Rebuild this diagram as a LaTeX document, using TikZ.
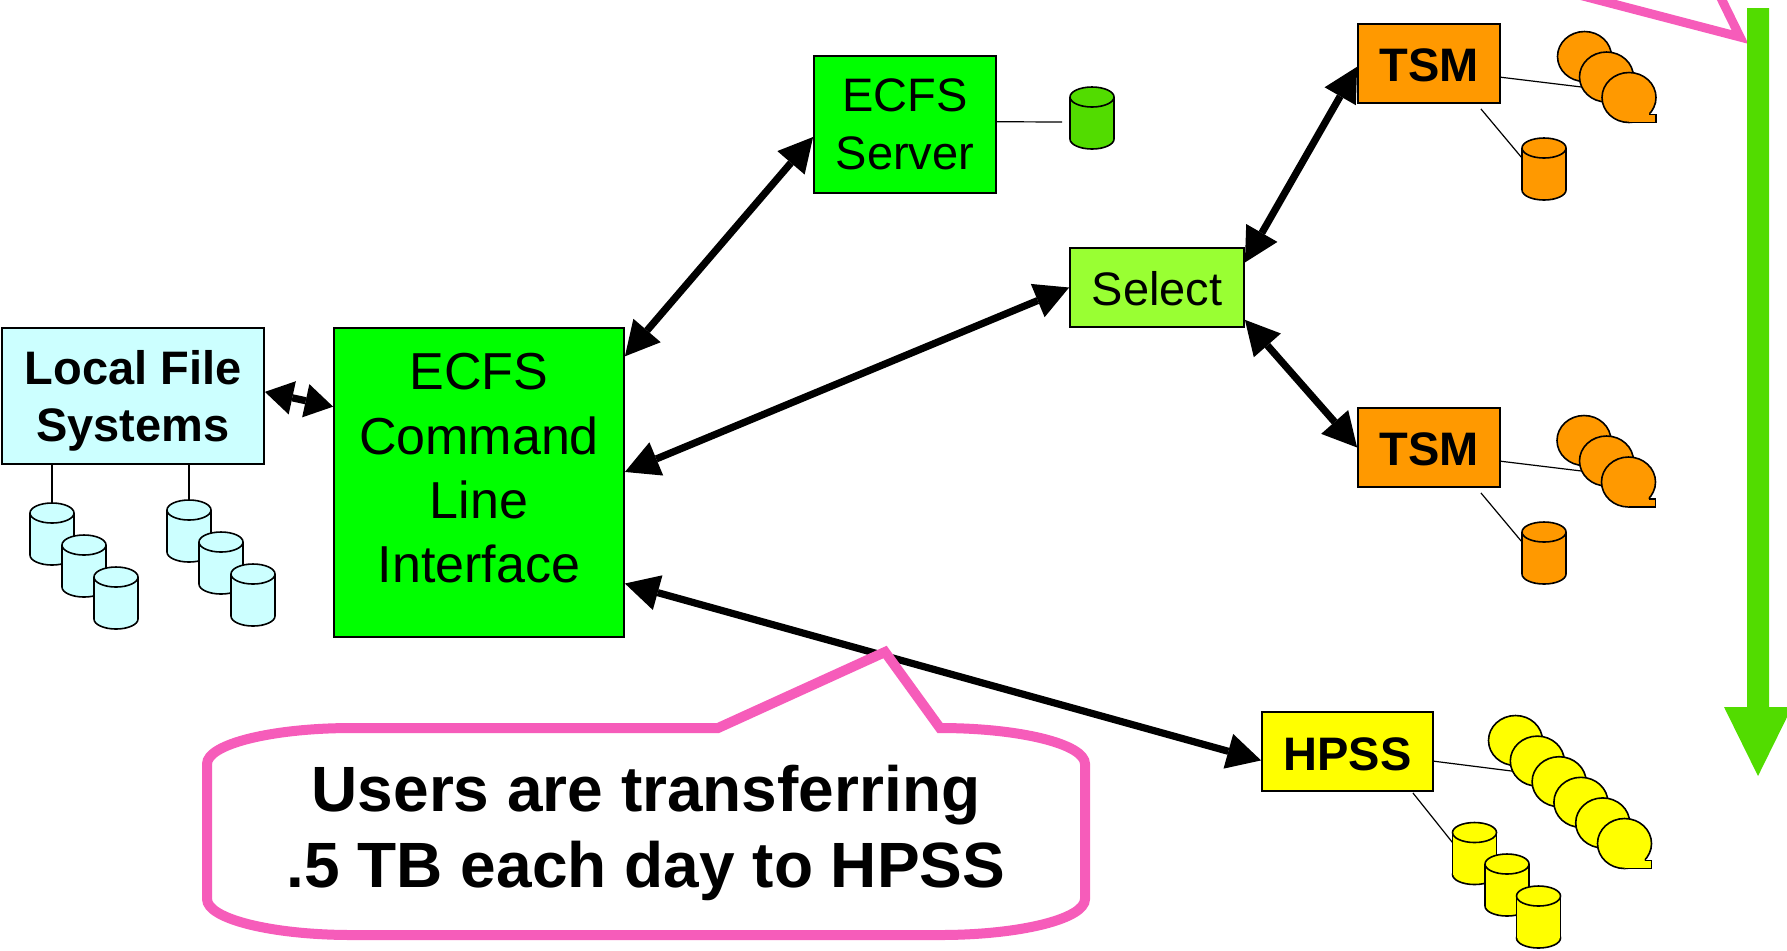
\documentclass[tikz,border=0pt]{standalone}
\usepackage{fontspec}
\setmainfont{Liberation Sans}
\usetikzlibrary{arrows.meta,calc}
\definecolor{lfscyan}{RGB}{204,255,255}
\definecolor{cligreen}{RGB}{0,255,0}
\definecolor{selgreen}{RGB}{153,255,51}
\definecolor{tsmorange}{RGB}{255,153,0}
\definecolor{hpssyellow}{RGB}{255,255,0}
\definecolor{darkgreen}{RGB}{82,220,0}
\definecolor{calloutpink}{RGB}{246,92,186}
\tikzset{
  box/.style={draw=black, line width=0.9pt, inner sep=0pt, rectangle},
  boldtext/.style={font=\fontsize{23.5}{28.5}\selectfont\bfseries, inner sep=0pt, align=center},
  plaintext/.style={font=\fontsize{23.5}{29}\selectfont, inner sep=0pt, align=center},
  clitext/.style={font=\fontsize{26}{32.15}\selectfont, inner sep=0pt, align=center},
  callouttext/.style={font=\fontsize{32}{38}\selectfont\bfseries, inner sep=0pt, align=center},
  dbl/.style={line width=3.6pt,
    {Triangle[length=17pt,width=18pt,line width=0pt]}-{Triangle[length=17pt,width=18pt,line width=0pt]}},
  shortdbl/.style={line width=3.6pt,
    {Triangle[length=14pt,width=17pt,line width=0pt]}-{Triangle[length=14pt,width=17pt,line width=0pt]}},
  thinline/.style={line width=0.6pt},
  callout/.style={draw=calloutpink, line width=5pt, fill=white, line join=miter},
  cyl/.pic={
    \path[fill=#1, draw=black, line width=0.8pt] (0,21) circle[x radius=22, y radius=10];
    \fill[#1] (-22,-21) rectangle (22,21);
    \draw[line width=0.8pt] (-22,-21) -- (-22,21) (22,-21) -- (22,21);
    \path[fill=#1, draw=black, line width=0.8pt] (0,-21) circle[x radius=22, y radius=10];
    \coordinate (-top) at (0,-31);
    \coordinate (-nw) at (-22,-11);
    \coordinate (-w) at (-22,0);
  },
  tape/.pic={
    \path[fill=#1, draw=black, line width=0.8pt] (0,0) circle[x radius=27, y radius=25];
    \fill[#1] (0,0) -- (0,25) -- (27,25) -- (27,17) -- (20,17) -- (20,0) -- cycle;
    \draw[line width=0.8pt, line join=miter] (0,25) -- (27,25) -- (27,17) -- (20,17);
    \coordinate (-in) at (-25,10);
  }
}
\begin{document}
\begin{tikzpicture}[x=0.5pt, y=-0.5pt]
\useasboundingbox (0,0) rectangle (1787,950);

% boxes
\node[box, fill=lfscyan, minimum width=131pt, minimum height=68pt] (lfs) at (133,396) {};
\node[box, fill=cligreen, minimum width=145pt, minimum height=154.5pt] (cli) at (479,482.5) {};
\node[box, fill=cligreen, minimum width=91pt, minimum height=68.5pt] (server) at (905,124.5) {};
\node[box, fill=selgreen, minimum width=87pt, minimum height=39.5pt] (select) at (1157,287.5) {};
\node[box, fill=tsmorange, minimum width=71pt, minimum height=39.5pt] (tsm1) at (1429,63.5) {};
\node[box, fill=tsmorange, minimum width=71pt, minimum height=39.5pt] (tsm2) at (1429,447.5) {};
\node[box, fill=hpssyellow, minimum width=85.5pt, minimum height=39.5pt] (hpss) at (1347.5,751.5) {};

% texts
\node[boldtext, anchor=north] (lfstext) at (133,350) {Local File\\Systems};
\node[clitext, anchor=north] (clitxt) at (479,353) {ECFS\\Command\\Line\\Interface};
\node[plaintext, anchor=north] (srvtext) at (905,78) {ECFS\\Server};
\node[plaintext, anchor=base] (seltext) at (1157,305) {Select};
\node[boldtext, anchor=base] (tsm1text) at (1429,81) {TSM};
\node[boldtext, anchor=base] (tsm2text) at (1429,465) {TSM};
\node[boldtext, anchor=base] (hpsstext) at (1347.5,770) {HPSS};

% main arrows
\draw[dbl] ($(cli.north east)!0.094!(cli.south east)$) -- ($(server.north west)!0.59!(server.south west)$);
\draw[dbl] ($(cli.north east)!0.466!(cli.south east)$) -- (select.west);
\draw[dbl] ($(cli.north east)!0.825!(cli.south east)$) -- ($(hpss.north west)!0.61!(hpss.south west)$);
\draw[dbl] ($(select.north east)!0.19!(select.south east)$) -- ($(tsm1.north west)!0.54!(tsm1.south west)$);
\draw[dbl] ($(select.north east)!0.9!(select.south east)$) -- (tsm2.west);
\draw[shortdbl] ($(lfs.north east)!0.47!(lfs.south east)$) -- ($(cli.north west)!0.256!(cli.south west)$);

% storage pictograms
\pic (la1) at (52,534) {cyl=lfscyan};
\pic (la2) at (84,566) {cyl=lfscyan};
\pic (la3) at (116,598) {cyl=lfscyan};
\pic (lb1) at (189,531) {cyl=lfscyan};
\pic (lb2) at (221,563) {cyl=lfscyan};
\pic (lb3) at (253,595) {cyl=lfscyan};
\pic (scyl) at (1092,118) {cyl=darkgreen};

\pic (t1r1) at (1584.5,56.5) {tape=tsmorange};
\pic (t1r2) at (1606.5,77) {tape=tsmorange};
\pic (t1r3) at (1629,97.5) {tape=tsmorange};
\pic (t1c) at (1544,169) {cyl=tsmorange};

\pic (t2r1) at (1584,440.5) {tape=tsmorange};
\pic (t2r2) at (1606.5,461) {tape=tsmorange};
\pic (t2r3) at (1628.5,482) {tape=tsmorange};
\pic (t2c) at (1544,553) {cyl=tsmorange};

\pic (hr1) at (1515.5,740.5) {tape=hpssyellow};
\pic (hr2) at (1537.3,761.1) {tape=hpssyellow};
\pic (hr3) at (1559.1,781.7) {tape=hpssyellow};
\pic (hr4) at (1580.9,802.3) {tape=hpssyellow};
\pic (hr5) at (1602.7,822.9) {tape=hpssyellow};
\pic (hr6) at (1624.5,843.5) {tape=hpssyellow};
\pic (hc1) at (1474.5,853.5) {cyl=hpssyellow};
\pic (hc2) at (1507,885) {cyl=hpssyellow};
\pic (hc3) at (1538.5,917) {cyl=hpssyellow};

% thin connectors
\draw[thinline] (lfs.south -| la1-top) -- (la1-top);
\draw[thinline] (lfs.south -| lb1-top) -- (lb1-top);
\draw[thinline] ($(server.north east)!0.48!(server.south east)$) -- ($(scyl-w)+(-8,4)$);
\draw[thinline] ($(tsm1.north east)!0.67!(tsm1.south east)$) -- (t1r2-in);
\draw[thinline] ($(tsm1.south east)+(-20,5)$) -- (t1c-nw);
\draw[thinline] ($(tsm2.north east)!0.67!(tsm2.south east)$) -- (t2r2-in);
\draw[thinline] ($(tsm2.south east)+(-20,5)$) -- (t2c-nw);
\draw[thinline] ($(hpss.north east)!0.62!(hpss.south east)$) -- (hr2-in);
\draw[thinline] ($(hpss.south east)+(-21,1)$) -- (hc1-nw);

% callout
\draw[callout] (718,728) -- (885,652) -- (940,728)
  .. controls (1020.1,728) and (1085,744.1) .. (1085,764) -- (1085,899)
  .. controls (1085,918.9) and (1020.1,935) .. (940,935) -- (352,935)
  .. controls (271.9,935) and (207,918.9) .. (207,899) -- (207,764)
  .. controls (207,744.1) and (271.9,728) .. (352,728) -- cycle;
\node[callouttext, anchor=north] (ctext) at (646,765) {Users are transferring\\.5 TB each day to HPSS};

% top pointer of a callout outside the view
\draw[draw=calloutpink, line width=4.5pt, line join=miter] (1560,-10) -- (1740,37) -- (1717,-10);

% green down arrow
\fill[darkgreen] (1747,8) -- (1769,8) -- (1769,707) -- (1792,707) -- (1758,776) -- (1724,707) -- (1747,707) -- cycle;
\end{tikzpicture}
\end{document}
